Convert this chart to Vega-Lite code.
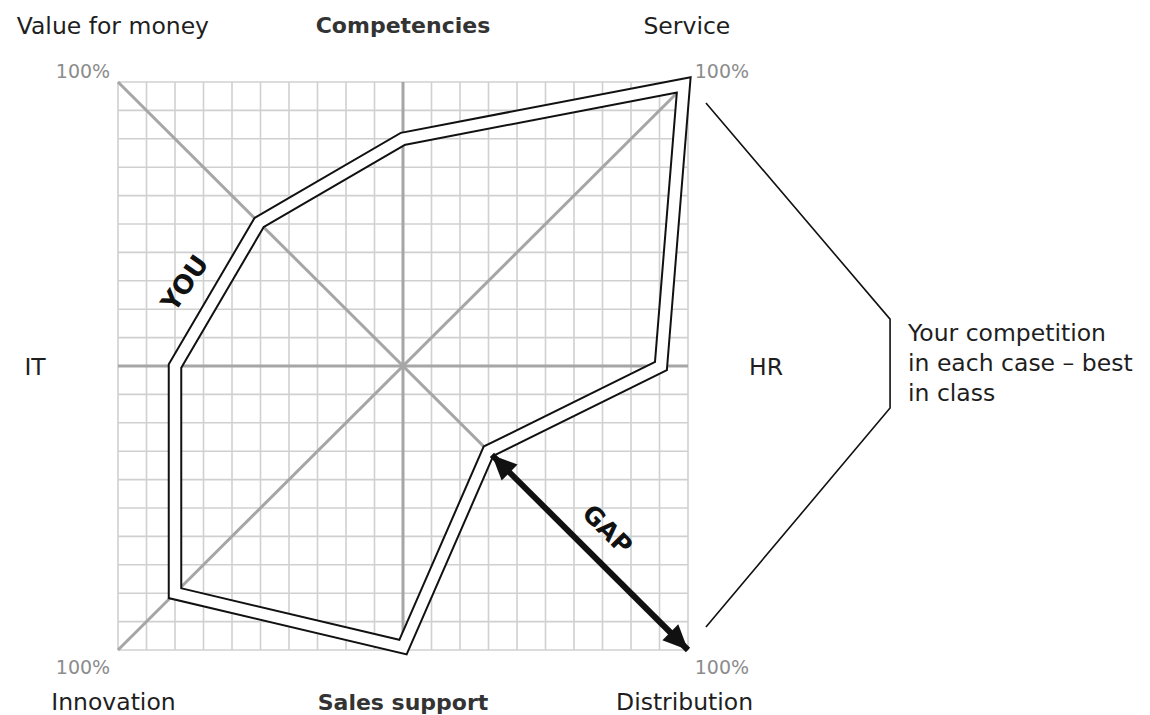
{
  "$schema": "https://vega.github.io/schema/vega-lite/v6.json",
  "width": 570,
  "height": 568,
  "autosize": {"type": "none"},
  "padding": {"left": 118, "top": 82, "right": 462, "bottom": 65},
  "background": "white",
  "config": {"view": {"stroke": null}, "axis": {"disable": true}},
  "datasets": {
    "grid": [{"g": -10},{"g": -9},{"g": -8},{"g": -7},{"g": -6},{"g": -5},{"g": -4},{"g": -3},{"g": -2},{"g": -1},{"g": 0},{"g": 1},{"g": 2},{"g": 3},{"g": 4},{"g": 5},{"g": 6},{"g": 7},{"g": 8},{"g": 9},{"g": 10}],
    "spokes": [
      {"x": -10, "y": 0, "x2": 10, "y2": 0},
      {"x": 0, "y": -10, "x2": 0, "y2": 10},
      {"x": -10, "y": 10, "x2": 10, "y2": -10},
      {"x": -10, "y": -10, "x2": 10, "y2": 10}
    ],
    "you": [
      {"i": 0, "axis": "Value for money", "x": -5.05, "y": 5.05},
      {"i": 1, "axis": "Competencies", "x": 0.0, "y": 8.0},
      {"i": 2, "axis": "Service", "x": 9.85, "y": 9.9},
      {"i": 3, "axis": "HR", "x": 9.05, "y": 0.0},
      {"i": 4, "axis": "Distribution", "x": 3.0, "y": -3.0},
      {"i": 5, "axis": "Sales support", "x": 0.0, "y": -9.9},
      {"i": 6, "axis": "Innovation", "x": -8.0, "y": -8.0},
      {"i": 7, "axis": "IT", "x": -8.0, "y": 0.0}
    ],
    "gap": [{"x": 3.12, "y": -3.13, "x2": 10.0, "y2": -10.0}],
    "bracket": [
      {"i": 0, "x": 10.63, "y": 9.26},
      {"i": 1, "x": 17.09, "y": 1.65},
      {"i": 2, "x": 17.09, "y": -1.48},
      {"i": 3, "x": 10.63, "y": -9.19}
    ],
    "labels": [
      {"label": "Value for money", "x": -10.18, "y": 11.69},
      {"label": "Competencies", "x": 0.0, "y": 11.73},
      {"label": "Service", "x": 9.96, "y": 11.69},
      {"label": "IT", "x": -12.91, "y": -0.33},
      {"label": "HR", "x": 12.74, "y": -0.33},
      {"label": "Innovation", "x": -10.16, "y": -12.11},
      {"label": "Sales support", "x": 0.0, "y": -12.11},
      {"label": "Distribution", "x": 9.88, "y": -12.11}
    ],
    "pct": [
      {"label": "100%", "x": -11.23, "y": 10.14},
      {"label": "100%", "x": 11.19, "y": 10.14},
      {"label": "100%", "x": -11.23, "y": -10.85},
      {"label": "100%", "x": 11.19, "y": -10.85}
    ],
    "note": [
      {"label": "Your competition", "x": 17.72, "y": 0.88},
      {"label": "in each case – best", "x": 17.72, "y": -0.18},
      {"label": "in class", "x": 17.72, "y": -1.23}
    ],
    "tags": [
      {"label": "GAP", "x": 7.16, "y": -5.77},
      {"label": "YOU", "x": -7.63, "y": 2.9}
    ]
  },
  "layer": [
    {
      "data": {"name": "grid"},
      "mark": {"type": "rule", "color": "#d0d0d0", "strokeWidth": 1.6},
      "encoding": {
        "x": {"field": "g", "type": "quantitative", "scale": {"domain": [-10, 10], "nice": false, "zero": false}},
        "y": {"datum": -10},
        "y2": {"datum": 10}
      }
    },
    {
      "data": {"name": "grid"},
      "mark": {"type": "rule", "color": "#d0d0d0", "strokeWidth": 1.6},
      "encoding": {
        "y": {"field": "g", "type": "quantitative", "scale": {"domain": [-10, 10], "nice": false, "zero": false}},
        "x": {"datum": -10},
        "x2": {"datum": 10}
      }
    },
    {
      "data": {"name": "spokes"},
      "mark": {"type": "rule", "color": "#a6a6a6", "strokeWidth": 3},
      "encoding": {
        "x": {"field": "x", "type": "quantitative", "scale": {"domain": [-10, 10], "nice": false, "zero": false}},
        "y": {"field": "y", "type": "quantitative", "scale": {"domain": [-10, 10], "nice": false, "zero": false}},
        "x2": {"field": "x2"},
        "y2": {"field": "y2"}
      }
    },
    {
      "data": {"name": "you"},
      "mark": {"type": "line", "interpolate": "linear-closed", "color": "#111111", "strokeWidth": 14.5, "strokeJoin": "miter"},
      "encoding": {
        "x": {"field": "x", "type": "quantitative", "scale": {"domain": [-10, 10], "nice": false, "zero": false}},
        "y": {"field": "y", "type": "quantitative", "scale": {"domain": [-10, 10], "nice": false, "zero": false}},
        "order": {"field": "i"}
      }
    },
    {
      "data": {"name": "you"},
      "mark": {"type": "line", "interpolate": "linear-closed", "color": "#ffffff", "strokeWidth": 10.5, "strokeJoin": "miter"},
      "encoding": {
        "x": {"field": "x", "type": "quantitative", "scale": {"domain": [-10, 10], "nice": false, "zero": false}},
        "y": {"field": "y", "type": "quantitative", "scale": {"domain": [-10, 10], "nice": false, "zero": false}},
        "order": {"field": "i"}
      }
    },
    {
      "data": {"name": "gap"},
      "mark": {"type": "rule", "color": "#111111", "strokeWidth": 6},
      "encoding": {
        "x": {"field": "x", "type": "quantitative", "scale": {"domain": [-10, 10], "nice": false, "zero": false}},
        "y": {"field": "y", "type": "quantitative", "scale": {"domain": [-10, 10], "nice": false, "zero": false}},
        "x2": {"field": "x2"},
        "y2": {"field": "y2"}
      }
    },
    {
      "data": {"name": "gap"},
      "mark": {"type": "point", "shape": "M0,0L0.9,2L-0.9,2Z", "filled": true, "color": "#111111", "opacity": 1, "size": 625, "angle": 315, "strokeWidth": 0},
      "encoding": {
        "x": {"field": "x", "type": "quantitative", "scale": {"domain": [-10, 10], "nice": false, "zero": false}},
        "y": {"field": "y", "type": "quantitative", "scale": {"domain": [-10, 10], "nice": false, "zero": false}}
      }
    },
    {
      "data": {"name": "gap"},
      "mark": {"type": "point", "shape": "M0,0L0.9,2L-0.9,2Z", "filled": true, "color": "#111111", "opacity": 1, "size": 625, "angle": 135, "strokeWidth": 0},
      "encoding": {
        "x": {"field": "x2", "type": "quantitative", "scale": {"domain": [-10, 10], "nice": false, "zero": false}},
        "y": {"field": "y2", "type": "quantitative", "scale": {"domain": [-10, 10], "nice": false, "zero": false}}
      }
    },
    {
      "data": {"name": "bracket"},
      "mark": {"type": "line", "color": "#111111", "strokeWidth": 1.6, "clip": false},
      "encoding": {
        "x": {"field": "x", "type": "quantitative", "scale": {"domain": [-10, 10], "nice": false, "zero": false}},
        "y": {"field": "y", "type": "quantitative", "scale": {"domain": [-10, 10], "nice": false, "zero": false}},
        "order": {"field": "i"}
      }
    },
    {
      "data": {"name": "labels"},
      "transform": [{"filter": "datum.label !== 'Competencies' && datum.label !== 'Sales support'"}],
      "mark": {"type": "text", "font": "DejaVu Sans", "fontSize": 23.5, "color": "#1e1e1e", "align": "center", "baseline": "alphabetic"},
      "encoding": {
        "x": {"field": "x", "type": "quantitative", "scale": {"domain": [-10, 10], "nice": false, "zero": false}},
        "y": {"field": "y", "type": "quantitative", "scale": {"domain": [-10, 10], "nice": false, "zero": false}},
        "text": {"field": "label"}
      }
    },
    {
      "data": {"name": "labels"},
      "transform": [{"filter": "datum.label === 'Competencies' || datum.label === 'Sales support'"}],
      "mark": {"type": "text", "font": "DejaVu Sans", "fontWeight": "bold", "fontSize": 22, "color": "#333333", "align": "center", "baseline": "alphabetic"},
      "encoding": {
        "x": {"field": "x", "type": "quantitative", "scale": {"domain": [-10, 10], "nice": false, "zero": false}},
        "y": {"field": "y", "type": "quantitative", "scale": {"domain": [-10, 10], "nice": false, "zero": false}},
        "text": {"field": "label"}
      }
    },
    {
      "data": {"name": "pct"},
      "mark": {"type": "text", "font": "DejaVu Sans", "fontSize": 19, "color": "#8c8c8c", "align": "center", "baseline": "alphabetic"},
      "encoding": {
        "x": {"field": "x", "type": "quantitative", "scale": {"domain": [-10, 10], "nice": false, "zero": false}},
        "y": {"field": "y", "type": "quantitative", "scale": {"domain": [-10, 10], "nice": false, "zero": false}},
        "text": {"field": "label"}
      }
    },
    {
      "data": {"name": "note"},
      "mark": {"type": "text", "font": "DejaVu Sans", "fontSize": 23.5, "color": "#1e1e1e", "align": "left", "baseline": "alphabetic"},
      "encoding": {
        "x": {"field": "x", "type": "quantitative", "scale": {"domain": [-10, 10], "nice": false, "zero": false}},
        "y": {"field": "y", "type": "quantitative", "scale": {"domain": [-10, 10], "nice": false, "zero": false}},
        "text": {"field": "label"}
      }
    },
    {
      "data": {"name": "tags"},
      "transform": [{"filter": "datum.label === 'GAP'"}],
      "mark": {"type": "text", "font": "DejaVu Sans", "fontWeight": "bold", "fontSize": 25, "color": "#111111", "align": "center", "baseline": "middle", "angle": 45},
      "encoding": {
        "x": {"field": "x", "type": "quantitative", "scale": {"domain": [-10, 10], "nice": false, "zero": false}},
        "y": {"field": "y", "type": "quantitative", "scale": {"domain": [-10, 10], "nice": false, "zero": false}},
        "text": {"field": "label"}
      }
    },
    {
      "data": {"name": "tags"},
      "transform": [{"filter": "datum.label === 'YOU'"}],
      "mark": {"type": "text", "font": "DejaVu Sans", "fontWeight": "bold", "fontSize": 26, "color": "#111111", "align": "center", "baseline": "middle", "angle": -55},
      "encoding": {
        "x": {"field": "x", "type": "quantitative", "scale": {"domain": [-10, 10], "nice": false, "zero": false}},
        "y": {"field": "y", "type": "quantitative", "scale": {"domain": [-10, 10], "nice": false, "zero": false}},
        "text": {"field": "label"}
      }
    }
  ]
}
